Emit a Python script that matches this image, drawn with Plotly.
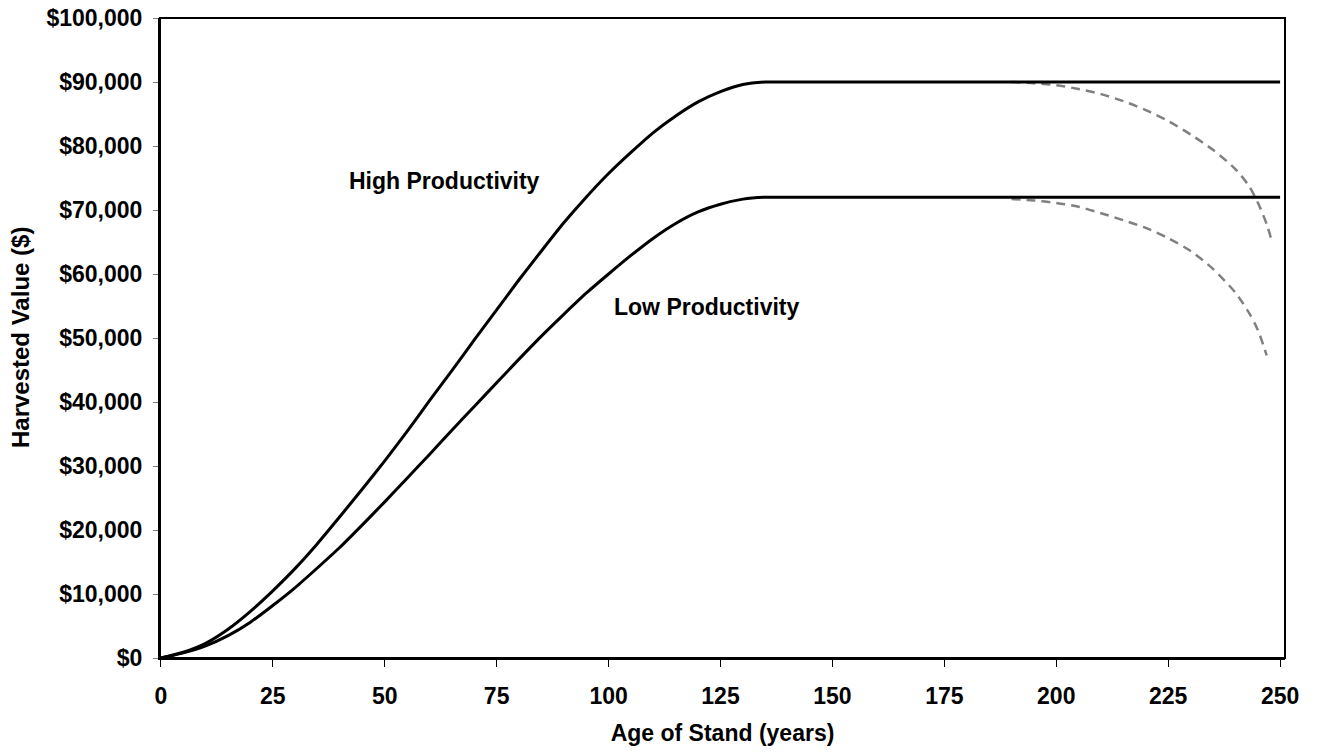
import plotly.graph_objects as go

# ---- data ----
age = [0, 5, 10, 15, 20, 25, 30, 35, 40, 45, 50, 55, 60, 65, 70, 75, 80, 85, 90, 95,
       100, 105, 110, 115, 120, 125, 130, 135, 140, 150, 175, 200, 225, 250]
high_value = [0, 900, 2300, 4500, 7300, 10500, 14000, 17900, 22100, 26400, 30800, 35400,
              40200, 44900, 49700, 54400, 59100, 63600, 68000, 72000, 75700, 79000,
              82100, 84700, 86900, 88500, 89600, 90000, 90000, 90000, 90000, 90000,
              90000, 90000]
low_value = [0, 800, 1900, 3500, 5600, 8200, 11000, 14100, 17300, 20800, 24400, 28100,
             31800, 35600, 39300, 43000, 46700, 50300, 53700, 57000, 60000, 62900,
             65600, 67900, 69700, 70900, 71700, 72000, 72000, 72000, 72000, 72000,
             72000, 72000]

decline_age_high = [190, 195, 200, 205, 210, 215, 220, 225, 230, 235, 240, 243, 245, 247, 248]
decline_high = [90000, 89800, 89500, 88900, 88100, 87000, 85600, 83900, 81800, 79400,
                76400, 73800, 71200, 67800, 65500]
decline_age_low = [190, 195, 200, 205, 210, 215, 220, 225, 230, 235, 240, 243, 245, 247]
decline_low = [71700, 71500, 71100, 70500, 69500, 68400, 67200, 65600, 63600, 60800,
               57100, 54000, 51300, 47300]

x_ticks = [0, 25, 50, 75, 100, 125, 150, 175, 200, 225, 250]
y_ticks = [0, 10000, 20000, 30000, 40000, 50000, 60000, 70000, 80000, 90000, 100000]
y_tick_labels = ["$0", "$10,000", "$20,000", "$30,000", "$40,000", "$50,000",
                 "$60,000", "$70,000", "$80,000", "$90,000", "$100,000"]

FONT = "Liberation Sans, Arial, sans-serif"
FS = 23

fig = go.Figure()
for xs, ys in ((decline_age_high, decline_high), (decline_age_low, decline_low)):
    fig.add_trace(go.Scatter(x=xs, y=ys, mode="lines",
                             line=dict(color="#808080", width=2.5, dash="9px,6px",
                                       shape="spline", smoothing=0.8),
                             showlegend=False, hoverinfo="skip"))
fig.add_trace(go.Scatter(x=age, y=high_value, mode="lines", name="High Productivity",
                         line=dict(color="black", width=3, shape="spline", smoothing=0.5),
                         showlegend=False))
fig.add_trace(go.Scatter(x=age, y=low_value, mode="lines", name="Low Productivity",
                         line=dict(color="black", width=3, shape="spline", smoothing=0.5),
                         showlegend=False))

fig.add_annotation(x=63.4, y=74500, text="<b>High Productivity</b>", showarrow=False,
                   font=dict(family=FONT, size=FS, color="black"))
fig.add_annotation(x=121.9, y=54850, text="<b>Low Productivity</b>", showarrow=False,
                   font=dict(family=FONT, size=FS, color="black"))

# y axis title (placed as a rotated annotation so it can sit close to the page edge)
fig.add_annotation(xref="paper", yref="paper", x=-0.1244, y=0.5, xanchor="center",
                   yanchor="middle", textangle=-90, showarrow=False,
                   text="<b>Harvested Value ($)</b>",
                   font=dict(family=FONT, size=24, color="black"))

# plot frame
fig.add_shape(type="rect", xref="paper", yref="paper", x0=0, y0=0, x1=1, y1=1,
              line=dict(color="black", width=2), layer="above")

fig.update_layout(
    width=1321, height=753,
    margin=dict(l=160, r=36, t=18, b=95, autoexpand=False),
    plot_bgcolor="white", paper_bgcolor="white",
    font=dict(family=FONT, size=FS, color="black"),
)
fig.update_xaxes(
    range=[-0.2, 251.1], tickvals=x_ticks, ticktext=[f"<b>{v}</b>" for v in x_ticks],
    showgrid=False, zeroline=False, automargin=False,
    showline=True, linecolor="black", linewidth=2,
    ticks="outside", ticklen=7, tickwidth=1, tickcolor="black",
    ticklabelstandoff=9, ticklabeloverflow="allow",
    tickfont=dict(family=FONT, size=FS, color="black"),
    title=dict(text="<b>Age of Stand (years)</b>", standoff=17,
               font=dict(family=FONT, size=FS, color="black")),
)
fig.update_yaxes(
    range=[0, 100000], tickvals=y_ticks, ticktext=[f"<b>{t}</b>" for t in y_tick_labels],
    showgrid=False, zeroline=False, automargin=False,
    showline=True, linecolor="black", linewidth=2,
    ticks="outside", ticklen=5, tickwidth=1, tickcolor="#808080",
    ticklabelstandoff=6, ticklabeloverflow="allow",
    tickfont=dict(family=FONT, size=FS, color="black"),
)

fig.write_html("out.html", config={"displayModeBar": False},
               post_script="document.body.style.margin='0';")
